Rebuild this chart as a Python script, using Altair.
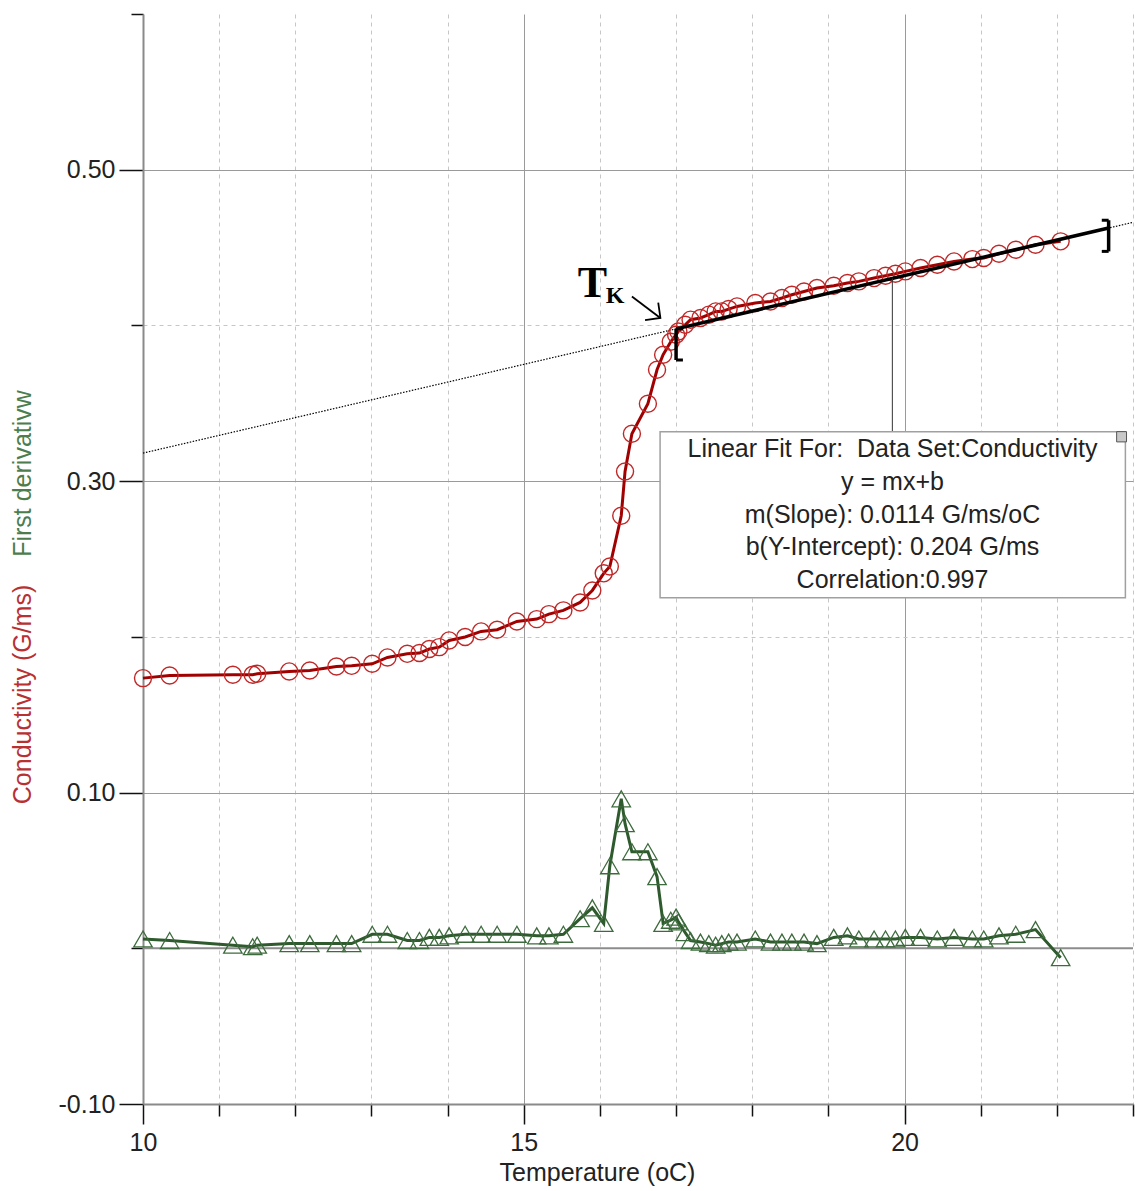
import altair as alt
import pandas as pd

# ---------------- data ----------------
temperature = [
    10.00, 10.35, 11.18, 11.44, 11.50, 11.92, 12.19, 12.54, 12.74, 13.01,
    13.21, 13.47, 13.63, 13.76, 13.89, 14.02, 14.23, 14.44, 14.65, 14.91,
    15.17, 15.33, 15.52, 15.74, 15.90, 16.05, 16.13, 16.28, 16.33, 16.42,
    16.63, 16.75, 16.83, 16.93, 17.00, 17.03, 17.12, 17.19, 17.32, 17.43,
    17.52, 17.60, 17.69, 17.80, 18.04, 18.24, 18.39, 18.52, 18.68, 18.85,
    19.07, 19.25, 19.40, 19.60, 19.75, 19.88, 20.01, 20.21, 20.43, 20.65,
    20.89, 21.04, 21.24, 21.46, 21.72, 22.05,
]
conductivity = [
    0.1735, 0.1752, 0.1757, 0.1757, 0.1763, 0.1778, 0.1784, 0.1810, 0.1814, 0.1827,
    0.1868, 0.1891, 0.1896, 0.1922, 0.1934, 0.1977, 0.1999, 0.2035, 0.2046, 0.2099,
    0.2114, 0.2146, 0.2170, 0.2221, 0.2298, 0.2408, 0.2452, 0.2778, 0.3062, 0.3304,
    0.3497, 0.3715, 0.3812, 0.3895, 0.3940, 0.3961, 0.4004, 0.4037, 0.4048, 0.4069,
    0.4090, 0.4090, 0.4105, 0.4122, 0.4144, 0.4154, 0.4176, 0.4197, 0.4218, 0.4240,
    0.4255, 0.4272, 0.4283, 0.4304, 0.4319, 0.4332, 0.4347, 0.4369, 0.4390, 0.4411,
    0.4426, 0.4433, 0.4460, 0.4486, 0.4518, 0.4540,
]
derivative = [
    0.006, 0.005, 0.002, 0.001, 0.002, 0.003, 0.003, 0.003, 0.003, 0.009,
    0.009, 0.005, 0.005, 0.007, 0.007, 0.008, 0.009, 0.009, 0.009, 0.009,
    0.008, 0.008, 0.009, 0.019, 0.026, 0.016, 0.053, 0.096, 0.080, 0.062,
    0.062, 0.046, 0.016, 0.018, 0.020, 0.017, 0.010, 0.005, 0.004, 0.003,
    0.002, 0.003, 0.004, 0.004, 0.006, 0.004, 0.004, 0.004, 0.004, 0.003,
    0.007, 0.008, 0.006, 0.006, 0.006, 0.006, 0.007, 0.007, 0.006, 0.007,
    0.006, 0.006, 0.008, 0.009, 0.012, -0.006,
]

fit_slope = 0.0114
fit_intercept = 0.204
fit_range = [17.0, 22.68]        # selected region of the linear fit
fit_extent = [10.0, 23.0]        # dotted extension
callout_T = 19.84
box_T = [16.79, 22.90]
box_v = [0.2251, 0.3317]
box_lines = [
    "Linear Fit For:\u00a0 Data Set:Conductivity",
    "y = mx+b",
    "m(Slope): 0.0114 G/ms/oC",
    "b(Y-Intercept): 0.204 G/ms",
    "Correlation:0.997",
]
arrow_T = [16.42, 16.794]
arrow_v = [0.4186, 0.4048]

x_ticks = [10, 11, 12, 13, 14, 15, 16, 17, 18, 19, 20, 21, 22, 23]
y_ticks = [-0.1, 0.0, 0.1, 0.2, 0.3, 0.4, 0.5, 0.6]

SANS = "Liberation Sans, Arimo, Arial, sans-serif"
SERIF = "Liberation Serif, Times New Roman, serif"
RED_LINE = "#a00000"
RED_MARK = "#c02828"
GREEN_LINE = "#2e5a2e"
GREEN_MARK = "#3d6b3d"


def fit(t):
    return fit_slope * t + fit_intercept


# ---------------- scales & axes ----------------
xs = alt.Scale(domain=[10, 23], nice=False, zero=False)
ys = alt.Scale(domain=[-0.1, 0.6], nice=False, zero=False)

x_major = "datum.value % 5 === 0"
y_major = "abs(round(datum.value * 10)) % 2 === 1"

x_axis = alt.Axis(
    values=x_ticks,
    labelExpr="datum.value % 5 === 0 ? format(datum.value, 'd') : ''",
    grid=True,
    gridColor={"condition": {"test": x_major, "value": "#9a9a9a"}, "value": "#c6c6c6"},
    gridDash={"condition": {"test": x_major, "value": []}, "value": [4, 4]},
    gridWidth=1,
    tickSize={"condition": {"test": x_major, "value": 20}, "value": 12},
    tickColor="#111",
    tickWidth=1.5,
    domainColor="#8a8a8a",
    domainWidth=2,
    labelFont=SANS,
    labelFontSize=25,
    labelColor="#222",
    labelPadding=6,
    labelFlush=False,
    labelOverlap=False,
    title="Temperature (oC)",
    titleFont=SANS,
    titleFontSize=25,
    titleFontWeight="normal",
    titleColor="#222",
    titleX=454,
    titleY=68,
    titleBaseline="middle",
    titleAlign="center",
)

y_axis = alt.Axis(
    values=y_ticks,
    labelExpr=y_major + " ? replace(format(datum.value, '.2f'), '\u2212', '-') : ''",
    grid=True,
    gridColor={"condition": {"test": y_major, "value": "#9a9a9a"}, "value": "#c6c6c6"},
    gridDash={"condition": {"test": y_major, "value": []}, "value": [4, 4]},
    gridOpacity={"condition": {"test": "datum.value > 0.55", "value": 0}, "value": 1},
    gridWidth=1,
    tickSize={"condition": {"test": y_major, "value": 24}, "value": 12},
    tickColor="#111",
    tickWidth=1.5,
    domainColor="#8a8a8a",
    domainWidth=2,
    labelFont=SANS,
    labelFontSize=25,
    labelColor="#222",
    labelPadding=4,
    labelFlush=False,
    labelOverlap=False,
    title=None,
)

X = alt.X("T:Q", scale=xs, axis=x_axis)
Y = alt.Y("v:Q", scale=ys, axis=y_axis)

# ---------------- layers ----------------
df_cond = pd.DataFrame({"T": temperature, "v": conductivity})
df_der = pd.DataFrame({"T": temperature, "v": derivative})

zero_line = alt.Chart(pd.DataFrame({"v": [0.0]})).mark_rule(
    color="#8c8c8c", strokeWidth=2
).encode(y=Y)

fit_calc = f"{fit_slope} * datum.T + {fit_intercept}"

dotted = alt.Chart(pd.DataFrame({"T": fit_extent})).transform_calculate(
    v=fit_calc
).mark_line(color="#000", strokeWidth=1.2, strokeDash=[1.5, 1.5]).encode(x=X, y=Y)

red_line = alt.Chart(df_cond).mark_line(
    color=RED_LINE, strokeWidth=3
).encode(x=X, y=Y)

red_pts = alt.Chart(df_cond).mark_point(
    shape="circle", filled=False, size=290, stroke=RED_MARK, strokeWidth=1.4, opacity=1
).encode(x=X, y=Y)

fit_seg = alt.Chart(pd.DataFrame({"T": fit_range})).transform_calculate(
    v=fit_calc
).mark_line(color="black", strokeWidth=3.5).encode(x=X, y=Y)

# bracket geometry (left "[" hangs under the line, right "]" straddles it)
lt, rt = fit_range
br_vert = pd.DataFrame({
    "T": [lt, rt],
    "v": [fit(lt), fit(rt) + 0.005],
    "v2": [fit(lt) - 0.020, fit(rt) - 0.015],
})
br_ticks = pd.DataFrame({
    "T": [lt, lt, rt - 0.09, rt - 0.09],
    "T2": [lt + 0.09, lt + 0.09, rt, rt],
    "v": [fit(lt), fit(lt) - 0.020, fit(rt) + 0.005, fit(rt) - 0.015],
})
brackets_v = alt.Chart(br_vert).mark_rule(color="black", strokeWidth=3.5).encode(
    x=X, y=Y, y2="v2:Q"
)
brackets_h = alt.Chart(br_ticks).mark_rule(color="black", strokeWidth=3).encode(
    x=X, x2="T2:Q", y=Y
)

green_line = alt.Chart(df_der).mark_line(
    color=GREEN_LINE, strokeWidth=3
).encode(x=X, y=Y)

green_pts = alt.Chart(df_der).mark_point(
    shape="triangle-up", filled=False, size=340, stroke=GREEN_MARK, strokeWidth=1.3, opacity=1
).encode(x=X, y=Y)

connector = alt.Chart(pd.DataFrame({
    "T": [callout_T], "v": [fit(callout_T)], "v2": [box_v[1]]
})).mark_rule(color="#333", strokeWidth=1).encode(x=X, y=Y, y2="v2:Q")

box = alt.Chart(pd.DataFrame({
    "T": [box_T[0]], "T2": [box_T[1]], "v": [box_v[0]], "v2": [box_v[1]]
})).mark_rect(fill="white", stroke="#a0a0a0", strokeWidth=1.5).encode(
    x=X, x2="T2:Q", y=Y, y2="v2:Q"
)

close_sq = alt.Chart(pd.DataFrame({
    "T": [box_T[1] - 0.115], "T2": [box_T[1] + 0.015],
    "v": [box_v[1] - 0.0065], "v2": [box_v[1] + 0.0001],
})).mark_rect(fill="#c8c8c8", stroke="#555", strokeWidth=1).encode(
    x=X, x2="T2:Q", y=Y, y2="v2:Q"
)

box_text = alt.Chart(pd.DataFrame({
    "line": box_lines, "i": list(range(len(box_lines)))
})).transform_calculate(
    py="435 + datum.i * 32.75"
).mark_text(
    font=SANS, fontSize=25, color="#222", align="center", baseline="middle"
).encode(
    x=alt.value(749.5), y=alt.Y("py:Q", scale=None), text="line:N"
)

arrow_shaft = alt.Chart(pd.DataFrame({"T": arrow_T, "v": arrow_v})).mark_line(
    color="black", strokeWidth=1.8
).encode(x=X, y=Y)

arrow_head = alt.Chart(pd.DataFrame({"T": arrow_T[1:], "v": arrow_v[1:]})).mark_point(
    shape="M-1,-1L0,0L-1,1", filled=False, size=480, angle=37,
    stroke="black", strokeWidth=1.8, opacity=1
).encode(x=X, y=Y)

tk_T = alt.Chart(pd.DataFrame({"s": ["T"]})).mark_text(
    font=SERIF, fontSize=44, fontWeight="bold", color="black",
    align="center", baseline="alphabetic"
).encode(x=alt.value(449.5), y=alt.value(283), text="s:N")

tk_K = alt.Chart(pd.DataFrame({"s": ["K"]})).mark_text(
    font=SERIF, fontSize=24, fontWeight="bold", color="black",
    align="center", baseline="alphabetic"
).encode(x=alt.value(472), y=alt.value(289), text="s:N")

ytitle_red = alt.Chart(pd.DataFrame({"s": ["Conductivity (G/ms)"]})).mark_text(
    font=SANS, fontSize=25, color="#b83030", angle=270,
    align="center", baseline="middle"
).encode(x=alt.value(-120), y=alt.value(680.5), text="s:N")

ytitle_green = alt.Chart(pd.DataFrame({"s": ["First derivativw"]})).mark_text(
    font=SANS, fontSize=25, color="#4d7d4d", angle=270,
    align="center", baseline="middle"
).encode(x=alt.value(-120), y=alt.value(459.5), text="s:N")

chart = alt.layer(
    zero_line, dotted, red_line, red_pts, fit_seg, brackets_v, brackets_h,
    green_line, green_pts, connector, box, close_sq, box_text,
    arrow_shaft, arrow_head, tk_T, tk_K, ytitle_red, ytitle_green,
).properties(
    width=990,
    height=1090,
    autosize=alt.AutoSizeParams(type="none"),
    padding={"left": 143, "top": 14, "right": 6, "bottom": 87},
    background="white",
).configure_view(stroke=None)

chart.save("out.html", embed_options={"renderer": "svg", "actions": False})
